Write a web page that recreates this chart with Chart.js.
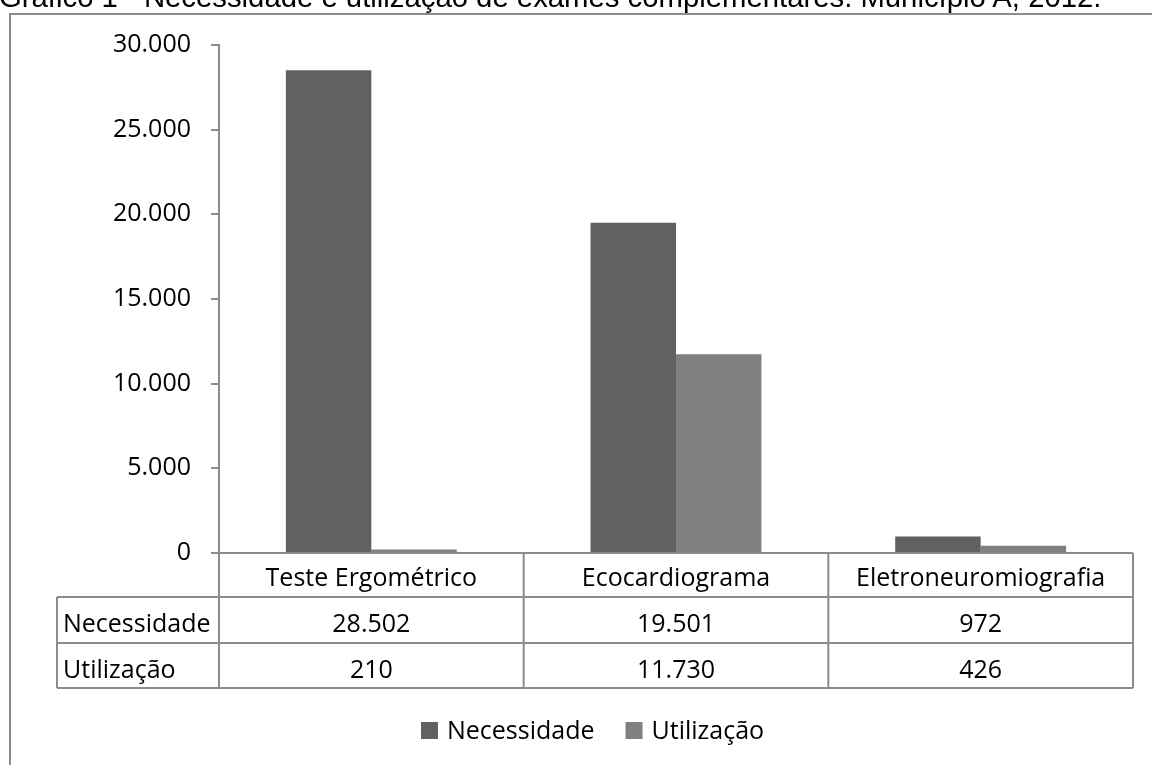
<!DOCTYPE html>
<html>
<head>
<meta charset="utf-8">
<script src="https://cdn.jsdelivr.net/npm/chart.js@4/dist/chart.umd.min.js"></script>
<style>
  html, body { margin: 0; padding: 0; background: #fff; overflow: hidden; }
  #wrap { position: relative; width: 1152px; height: 765px; }
  #title { position: absolute; left: -1px; top: -17.8px; font-family: "Liberation Sans", Arial, sans-serif; font-size: 29.3px; line-height: 29.3px; white-space: nowrap; color: #000; z-index: 2; }
  canvas { position: absolute; left: 0; top: 0; }
</style>
</head>
<body>
<div id="wrap">
  <div id="title">Gráfico 1 - Necessidade e utilização de exames complementares. Município A, 2012.</div>
  <canvas id="c" width="1152" height="765"></canvas>
</div>
<script>
const categories = ["Teste Ergométrico", "Ecocardiograma", "Eletroneuromiografia"];
const seriesNames = ["Necessidade", "Utilização"];
const necessidade = [28502, 19501, 972];
const utilizacao = [210, 11730, 426];
const yTicks = [0, 5000, 10000, 15000, 20000, 25000, 30000];

const FONT = '"Open Sans", "Noto Sans", sans-serif';
const GRAY = '#8c8c8c';
const fmt = v => String(v).replace(/\B(?=(\d{3})+(?!\d))/g, '.');

const tablePlugin = {
  id: 'tablePlugin',
  afterDraw(chart) {
    const ctx = chart.ctx;
    const a = chart.chartArea;
    const xs = chart.scales.x;
    const n = categories.length;
    const colW = (a.right - a.left) / n;
    const rowTop = a.bottom, row1 = a.bottom + 44, row2 = a.bottom + 90, rowBot = a.bottom + 135;
    const leftX = 57;
    ctx.save();
    ctx.strokeStyle = GRAY;
    ctx.lineWidth = 2;
    ctx.beginPath();
    // frame
    ctx.moveTo(10, 765); ctx.lineTo(10, 14); ctx.lineTo(1152, 14);
    // table grid
    ctx.moveTo(a.left, rowTop); ctx.lineTo(a.right, rowTop);
    ctx.moveTo(leftX, row1); ctx.lineTo(a.right, row1);
    ctx.moveTo(leftX, row2); ctx.lineTo(a.right, row2);
    ctx.moveTo(leftX, rowBot); ctx.lineTo(a.right, rowBot);
    ctx.moveTo(leftX, row1); ctx.lineTo(leftX, rowBot);
    for (let i = 0; i <= n; i++) {
      const x = a.left + i * colW;
      ctx.moveTo(x, rowTop); ctx.lineTo(x, rowBot);
    }
    ctx.stroke();

    ctx.fillStyle = '#000';
    ctx.font = '25px ' + FONT;
    ctx.textBaseline = 'alphabetic';
    ctx.textAlign = 'center';
    const rows = [necessidade, utilizacao];
    categories.forEach((c, i) => {
      const cx = xs.getPixelForValue(i);
      ctx.fillText(c, cx, rowTop + 33);
      ctx.fillText(fmt(rows[0][i]), cx, row1 + 35);
      ctx.fillText(fmt(rows[1][i]), cx, row2 + 35);
    });
    ctx.textAlign = 'left';
    ctx.fillText(seriesNames[0], 63, row1 + 35);
    ctx.fillText(seriesNames[1], 63, row2 + 35);

    // legend
    const ds = chart.data.datasets;
    const box = 17, gapT = 9, gapI = 31;
    const widths = ds.map(d => ctx.measureText(d.label).width);
    let x = 421;
    const baseY = 739;
    ds.forEach((d, i) => {
      ctx.fillStyle = d.backgroundColor;
      ctx.fillRect(x, baseY - 17, box, box);
      ctx.fillStyle = '#000';
      ctx.fillText(d.label, x + box + gapT, baseY);
      x += box + gapT + widths[i] + gapI;
    });
    ctx.restore();
  }
};

new Chart(document.getElementById('c'), {
  type: 'bar',
  data: {
    labels: categories,
    datasets: [
      { label: seriesNames[0], data: necessidade, backgroundColor: '#616161', borderWidth: 0 },
      { label: seriesNames[1], data: utilizacao, backgroundColor: '#808080', borderWidth: 0 }
    ]
  },
  options: {
    responsive: false,
    animation: false,
    events: [],
    layout: { padding: { left: 0, top: 45, right: 19, bottom: 212 } },
    datasets: { bar: { categoryPercentage: 0.561, barPercentage: 1.0 } },
    plugins: { legend: { display: false }, tooltip: { enabled: false }, title: { display: false } },
    scales: {
      x: { display: false, grid: { display: false } },
      y: {
        min: 0, max: 30000,
        afterFit(scale) { scale.width = 219; },
        afterBuildTicks(scale) { scale.ticks = yTicks.map(v => ({ value: v })); },
        ticks: { callback: v => fmt(v), color: '#000', font: { family: FONT, size: 25 }, padding: 20 },
        grid: { drawOnChartArea: false, drawTicks: true, tickLength: 8, color: GRAY, lineWidth: 2 },
        border: { display: true, color: GRAY, width: 2 }
      }
    }
  },
  plugins: [tablePlugin]
});
</script>
</body>
</html>
